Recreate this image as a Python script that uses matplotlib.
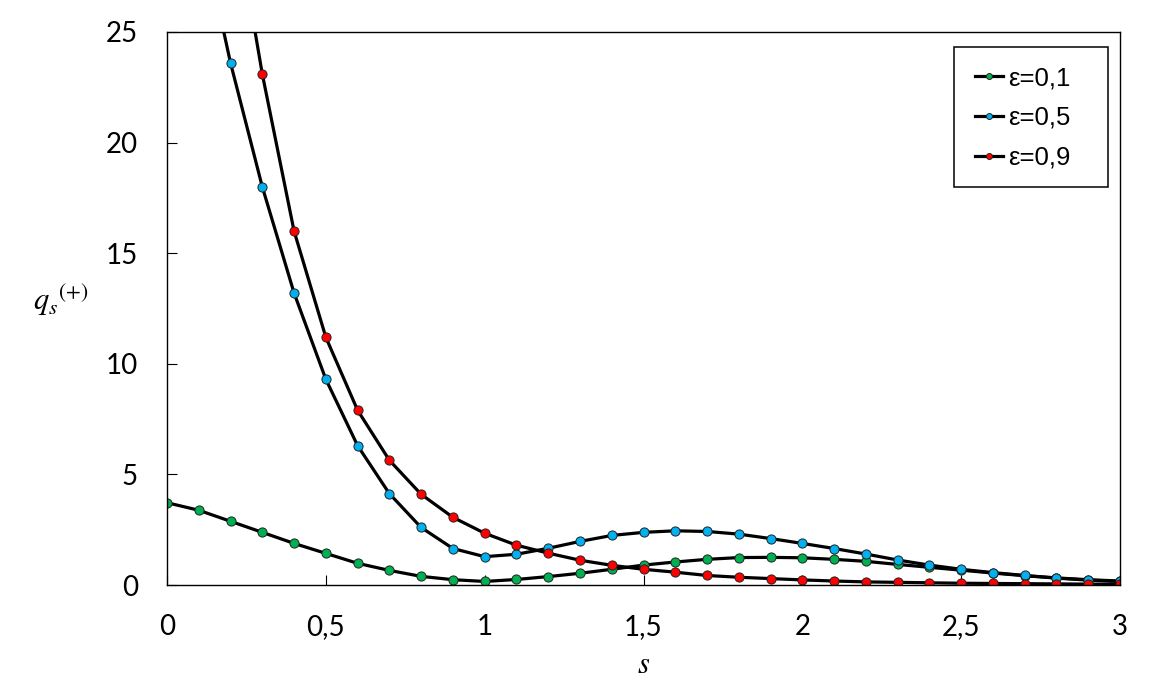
#!/usr/bin/env python
'''
q_s(+) versus s for three values of epsilon
'''

import matplotlib as mpl
if __name__ == '__main__': mpl.use('Agg')
import matplotlib.pyplot as plt
from matplotlib.patches import Rectangle


# s grid (0 .. 3 step 0.1)
S = [0.0, 0.1, 0.2, 0.3, 0.4, 0.5, 0.6, 0.7, 0.8, 0.9,
     1.0, 1.1, 1.2, 1.3, 1.4, 1.5, 1.6, 1.7, 1.8, 1.9,
     2.0, 2.1, 2.2, 2.3, 2.4, 2.5, 2.6, 2.7, 2.8, 2.9, 3.0]

# eps = 0.1
Q_EPS01 = [3.72, 3.38, 2.88, 2.38, 1.88, 1.43, 0.98, 0.66, 0.39, 0.24,
           0.16, 0.25, 0.38, 0.53, 0.71, 0.90, 1.04, 1.16, 1.24, 1.25,
           1.23, 1.16, 1.07, 0.93, 0.80, 0.67, 0.54, 0.42, 0.31, 0.22, 0.16]

# eps = 0.5 (first points run off the top of the plot)
Q_EPS05 = [37.5, 30.2, 23.6, 18.0, 13.2, 9.3, 6.3, 4.13, 2.6, 1.65,
           1.28, 1.39, 1.66, 1.97, 2.24, 2.38, 2.45, 2.42, 2.30, 2.10,
           1.88, 1.65, 1.40, 1.13, 0.90, 0.71, 0.56, 0.43, 0.32, 0.24, 0.18]

# eps = 0.9
Q_EPS09 = [52.0, 41.0, 31.5, 23.1, 16.0, 11.2, 7.9, 5.64, 4.1, 3.06,
           2.34, 1.80, 1.44, 1.12, 0.89, 0.71, 0.58, 0.43, 0.35, 0.29,
           0.23, 0.18, 0.14, 0.12, 0.10, 0.08, 0.07, 0.06, 0.05, 0.04, 0.04]

SERIES_LABELS = ['\u03b5=0,1', '\u03b5=0,5', '\u03b5=0,9']
SERIES_COLORS = ['#00B050', '#00B0F0', '#FF0000']

XTICKS = [0, 0.5, 1, 1.5, 2, 2.5, 3]
XTICKLABELS = ['0', '0,5', '1', '1,5', '2', '2,5', '3']
YTICKS = [0, 5, 10, 15, 20, 25]
YTICKLABELS = ['0', '5', '10', '15', '20', '25']


def plot_curves(ax):
    for y, lab, col in zip([Q_EPS01, Q_EPS05, Q_EPS09], SERIES_LABELS, SERIES_COLORS):
        ax.plot(S, y, '-', color='black', lw=2.3, marker='o', ms=6.6,
                mfc=col, mec='#222222', mew=0.7, label=lab)
    return ax


def style_axes(ax):
    ax.set_xlim(0, 3)
    ax.set_ylim(0, 25)
    ax.set_xticks(XTICKS)
    ax.set_xticklabels(XTICKLABELS)
    ax.set_yticks(YTICKS)
    ax.set_yticklabels(YTICKLABELS)
    ax.tick_params(direction='in', length=7.5, width=0.8, labelsize=20, pad=21)
    for lab in ax.get_xticklabels() + ax.get_yticklabels():
        lab.set_family('Lato')
    for sp in ax.spines.values():
        sp.set_linewidth(1.0)
        sp.set_color('black')

    ax.set_xlabel(r'$s$', fontsize=22)
    ax.xaxis.set_label_coords(0.5, -0.159)
    ax.xaxis.label.set_va('baseline')
    ax.set_ylabel(r'${q_s}^{(+)}$', fontsize=22, rotation=0)
    ax.yaxis.set_label_coords(-0.1406, 0.497)
    ax.yaxis.label.set_ha('left')
    ax.yaxis.label.set_va('baseline')


def main():
    plt.rcParams['mathtext.fontset'] = 'stix'
    W, H = 1167., 683.
    fig = plt.figure(figsize=(W / 100, H / 100), dpi=100)
    ax = fig.add_axes([167 / W, 1 - 585 / H, (1120 - 167) / W, (585 - 32) / H])

    plot_curves(ax)
    style_axes(ax)

    # legend without frame, box drawn separately
    leg = ax.legend(loc='center left', bbox_to_anchor=(975 / W, 1 - 118 / H),
                    bbox_transform=fig.transFigure, frameon=False,
                    borderpad=0, borderaxespad=0, handlelength=1.1,
                    handletextpad=0.18, labelspacing=0.62, markerscale=0.65,
                    prop={'family': 'Liberation Sans', 'size': 18.5})
    fig.patches.append(Rectangle((954 / W, 1 - 187 / H), 154 / W, 140 / H,
                                 transform=fig.transFigure, fill=False,
                                 edgecolor='black', lw=1.1))
    return fig


fig = main()
fig.savefig('out.png', dpi=100)
